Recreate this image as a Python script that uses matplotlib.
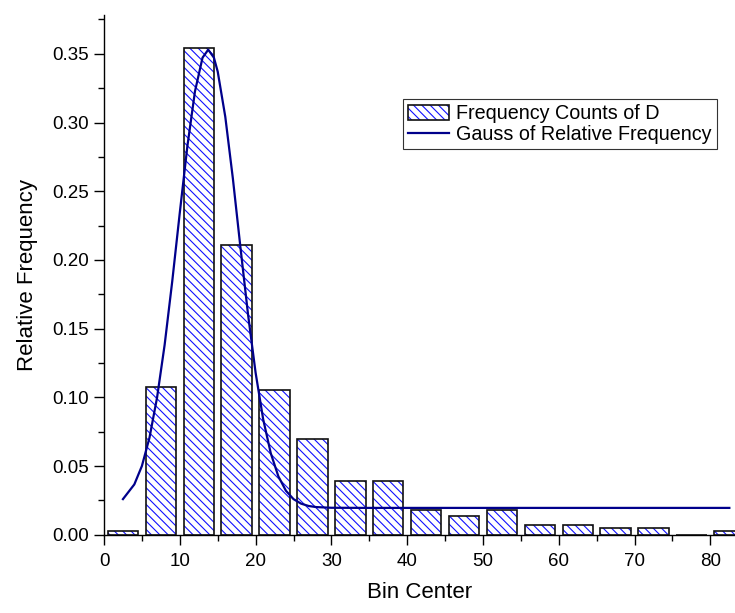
import matplotlib
matplotlib.use("Agg")
import matplotlib.pyplot as plt
from matplotlib.ticker import MultipleLocator
from matplotlib.patches import Patch
from matplotlib.legend_handler import HandlerTuple

plt.rcParams['font.family'] = ['Liberation Sans', 'DejaVu Sans']
plt.rcParams['hatch.linewidth'] = 0.8

# Histogram data
bin_centers = [2.5, 7.5, 12.5, 17.5, 22.5, 27.5, 32.5, 37.5, 42.5, 47.5,
               52.5, 57.5, 62.5, 67.5, 72.5, 77.5, 82.5]
rel_freq = [0.0028, 0.1078, 0.354, 0.2107, 0.1054, 0.0700, 0.0392, 0.0392,
            0.0183, 0.0137, 0.0183, 0.0071, 0.0071, 0.0050, 0.0050, 0.0, 0.0028]

# Gaussian fit curve
fit_x = [2.5, 4, 5, 6, 7, 8, 9, 10, 11, 12, 13, 13.75, 14.5, 15, 16, 17, 18,
         19, 20, 21, 22, 23, 24, 25, 26, 27, 28, 30, 35, 82.5]
fit_y = [0.0259, 0.0366, 0.0500, 0.0706, 0.0998, 0.1382, 0.1843, 0.2344,
         0.2828, 0.3226, 0.3472, 0.3530, 0.3472, 0.3371, 0.3042, 0.2593,
         0.2091, 0.1604, 0.1179, 0.0840, 0.0593, 0.0425, 0.0320, 0.0259,
         0.0226, 0.0209, 0.0201, 0.0196, 0.0195, 0.0195]

x_ticks = [0, 10, 20, 30, 40, 50, 60, 70, 80]
y_ticks = [0.00, 0.05, 0.10, 0.15, 0.20, 0.25, 0.30, 0.35]

fig = plt.figure(figsize=(7.35, 6.13), dpi=100)
left = 104 / 735
bottom = (613 - 534.7) / 613
top = 1 - 15 / 613
ax = fig.add_axes([left, bottom, 1 - left, top - bottom])

bar_w = 4.0
ax.bar(bin_centers, rel_freq, width=bar_w, color='white',
       edgecolor='#1010ff', hatch='\\\\\\\\', linewidth=0, zorder=2)
ax.bar(bin_centers, rel_freq, width=bar_w, fill=False,
       edgecolor='#111111', linewidth=1.2, zorder=3)
line, = ax.plot(fit_x, fit_y, color='#00008B', linewidth=1.6, zorder=4)

ax.set_xlim(0, (735 - 104) / 7.58)
ax.set_ylim(0, (534.7 - 15) / 1374)
ax.set_xticks(x_ticks)
ax.set_yticks(y_ticks)
ax.set_yticklabels([f"{v:.2f}" for v in y_ticks])
ax.xaxis.set_minor_locator(MultipleLocator(5))
ax.yaxis.set_minor_locator(MultipleLocator(0.025))
ax.tick_params(axis='both', which='major', direction='out', length=7,
               width=1.0, labelsize=13.5)
ax.tick_params(axis='x', which='major', pad=6)
ax.tick_params(axis='y', which='major', pad=4)
ax.tick_params(axis='both', which='minor', direction='out', length=4, width=1.0)

for s in ['top', 'right']:
    ax.spines[s].set_visible(False)
for s in ['left', 'bottom']:
    ax.spines[s].set_linewidth(1.0)

ax.set_xlabel('Bin Center', fontsize=16, labelpad=9)
ax.set_ylabel('Relative Frequency', fontsize=16, labelpad=10)

h_hatch = Patch(facecolor='white', edgecolor='#1010ff', hatch='\\\\\\\\', linewidth=0)
h_edge = Patch(fill=False, edgecolor='#111111', linewidth=1.2)
leg = fig.legend([(h_hatch, h_edge), line],
                 ['Frequency Counts of D', 'Gauss of Relative Frequency'],
                 handler_map={tuple: HandlerTuple(ndivide=1)},
                 loc='upper left', bbox_to_anchor=(403 / 735, 1 - 99 / 613),
                 borderaxespad=0, fontsize=14.2, fancybox=False, framealpha=1,
                 edgecolor='#333333', handlelength=2.1, handleheight=0.8,
                 handletextpad=0.35, labelspacing=0.1, borderpad=0.25)
leg.get_frame().set_linewidth(0.8)

fig.savefig('out.png', dpi=100)
